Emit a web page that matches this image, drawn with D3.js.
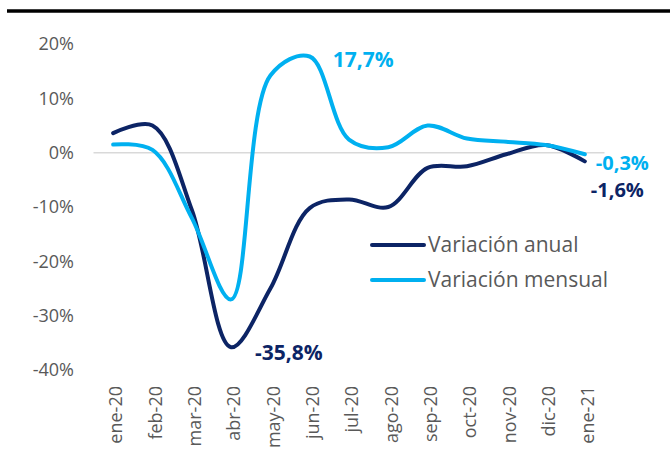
<!DOCTYPE html>
<html>
<head>
<meta charset="utf-8">
<script src="https://cdn.jsdelivr.net/npm/d3@7"></script>
<style>
  body { margin: 0; background: #fff; }
  text { font-family: "Open Sans", sans-serif; }
</style>
</head>
<body>
<div id="container"></div>
<script>
// data
const months = ['ene-20', 'feb-20', 'mar-20', 'abr-20', 'may-20', 'jun-20', 'jul-20',
  'ago-20', 'sep-20', 'oct-20', 'nov-20', 'dic-20', 'ene-21'];
const anual = [3.6, 5.0, -10.5, -35.8, -25.0, -10.2, -8.6, -10.0, -2.8, -2.5, -0.3, 1.4, -1.6];
const mensual = [1.5, 0.5, -12.0, -27.0, 14.2, 17.7, 2.4, 1.0, 5.0, 2.6, 2.0, 1.4, -0.3];
const yTicks = [20, 10, 0, -10, -20, -30, -40];

const W = 670, H = 455;
const navy = '#0c2465', sky = '#00b0f0', grey = '#595959';

const svg = d3.select('#container').append('svg')
  .attr('width', W).attr('height', H);

// top rule
svg.append('line')
  .attr('x1', 7).attr('x2', W).attr('y1', 11).attr('y2', 11)
  .attr('stroke', '#000').attr('stroke-width', 3.5);

const x = d3.scaleBand().domain(months).range([93.5, 604.5]);
const xc = d => x(d) + x.bandwidth() / 2;
const y = d3.scaleLinear().domain([-40, 20]).range([370, 44]);

// zero line
svg.append('line')
  .attr('x1', x.range()[0]).attr('x2', x.range()[1])
  .attr('y1', y(0)).attr('y2', y(0))
  .attr('stroke', '#d9d9d9').attr('stroke-width', 1.5);

// y axis
const yAxis = svg.append('g')
  .attr('transform', 'translate(74,0)')
  .call(d3.axisLeft(y).tickValues(yTicks).tickSize(0).tickPadding(0)
    .tickFormat(d => d + '%'));
yAxis.select('.domain').remove();
yAxis.selectAll('text').attr('fill', grey).style('font-size', '18px');

// x axis
const xAxis = svg.append('g')
  .attr('transform', 'translate(0,380)')
  .call(d3.axisBottom(x).tickSize(0));
xAxis.select('.domain').remove();
xAxis.selectAll('text')
  .attr('fill', grey).style('font-size', '18px')
  .attr('text-anchor', 'end')
  .attr('transform', 'rotate(-90)')
  .attr('x', -6).attr('y', 3).attr('dy', '0.35em');

const line = d3.line()
  .x((d, i) => xc(months[i]))
  .y(d => y(d))
  .curve(d3.curveCatmullRom.alpha(0.5));

svg.append('path').datum(anual)
  .attr('fill', 'none').attr('stroke', navy).attr('stroke-width', 4)
  .attr('stroke-linecap', 'round').attr('d', line);
svg.append('path').datum(mensual)
  .attr('fill', 'none').attr('stroke', sky).attr('stroke-width', 4)
  .attr('stroke-linecap', 'round').attr('d', line);

// data labels
const fmt = v => v.toFixed(1).replace('.', ',') + '%';
const lab = (v, i, col, dx, dy, fs) => svg.append('text')
  .attr('x', xc(months[i]) + dx).attr('y', y(v) + dy)
  .attr('fill', col).style('font-size', fs + 'px').style('font-weight', 'bold')
  .text(fmt(v));
lab(mensual[5], 5, sky, 23, 11, 21);
lab(anual[3], 3, navy, 24, 13, 21);
lab(mensual[12], 12, sky, 11, 16, 20);
lab(anual[12], 12, navy, 6, 36, 20);

// legend
const legend = [['Variación anual', navy], ['Variación mensual', sky]];
legend.forEach(([name, col], i) => {
  const ly = 245 + i * 35;
  svg.append('line').attr('x1', 372).attr('x2', 424).attr('y1', ly).attr('y2', ly)
    .attr('stroke', col).attr('stroke-width', 4).attr('stroke-linecap', 'round');
  svg.append('text').attr('x', 428).attr('y', ly).attr('dy', '0.35em')
    .attr('fill', grey).style('font-size', '21px').text(name);
});
</script>
</body>
</html>
